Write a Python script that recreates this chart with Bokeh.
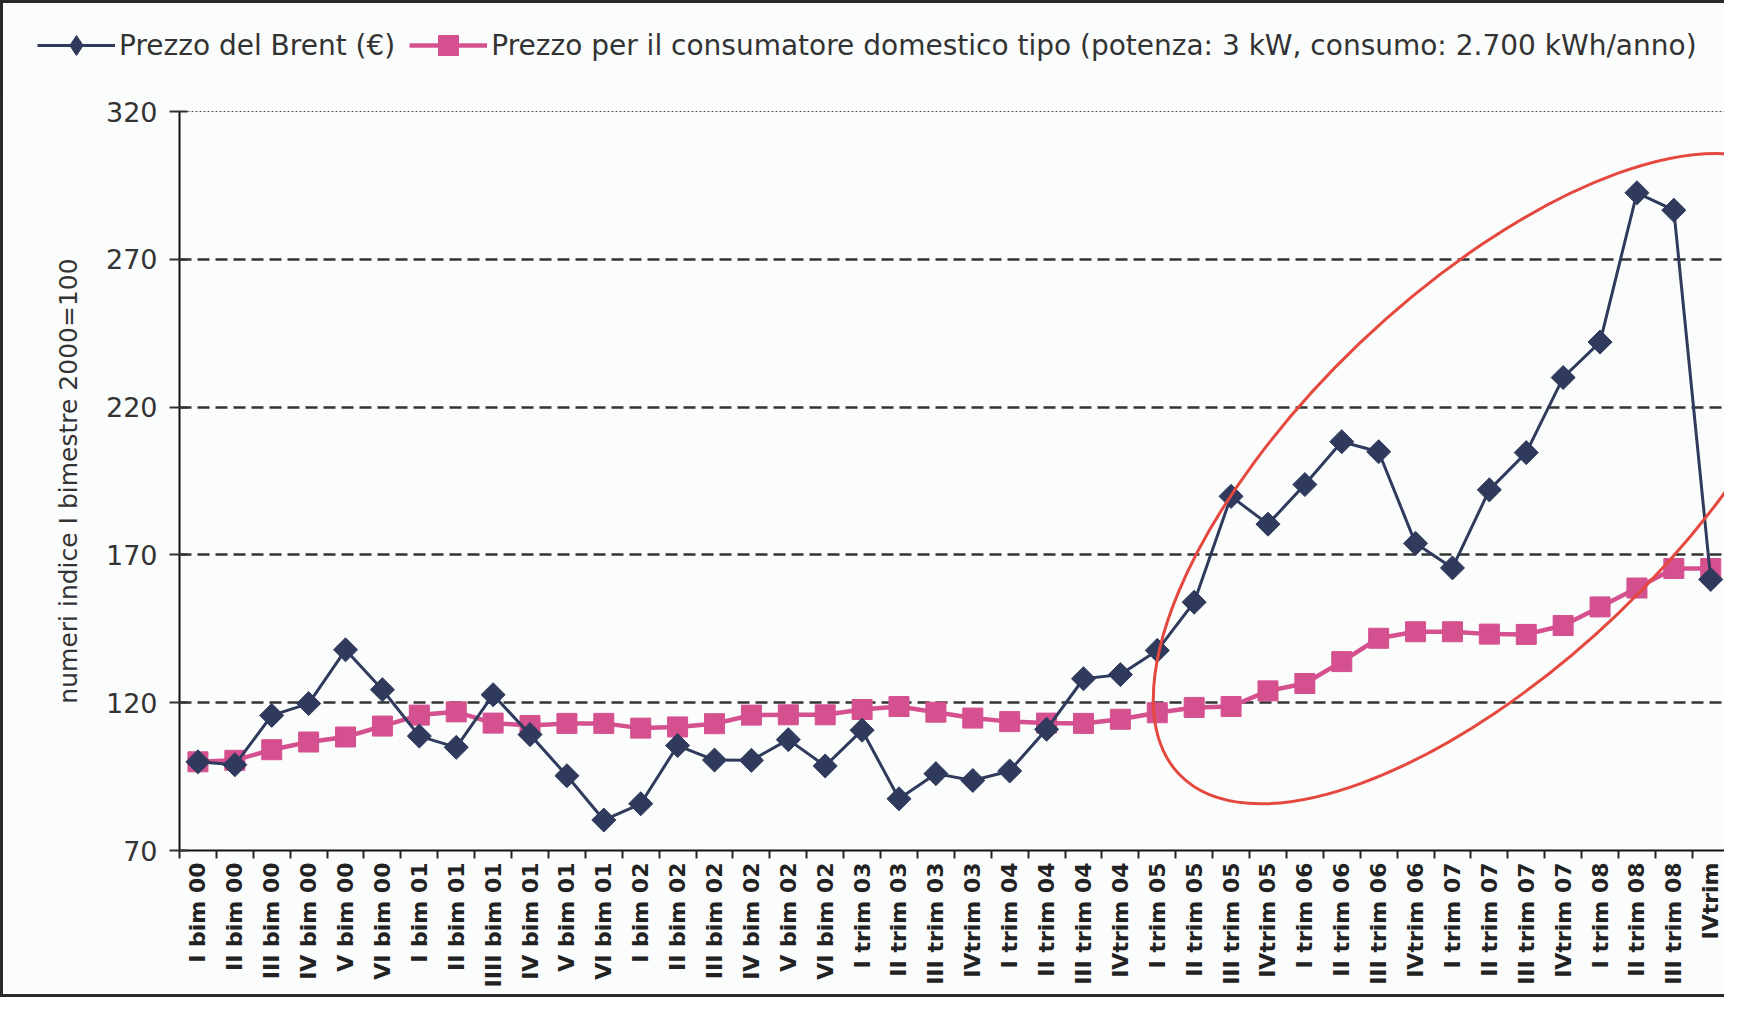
import math
from bokeh.plotting import figure
from bokeh.layouts import column
from bokeh.models import FixedTicker, Legend, LegendItem, Range1d
from bokeh.embed import file_html
from bokeh.resources import INLINE

periods = [
    "I bim 00", "II bim 00", "III bim 00", "IV bim 00", "V bim 00", "VI bim 00",
    "I bim 01", "II bim 01", "IIII bim 01", "IV bim 01", "V bim 01", "VI bim 01",
    "I bim 02", "II bim 02", "III bim 02", "IV bim 02", "V bim 02", "VI bim 02",
    "I trim 03", "II trim 03", "III trim 03", "IVtrim 03",
    "I trim 04", "II trim 04", "III trim 04", "IVtrim 04",
    "I trim 05", "II trim 05", "III trim 05", "IVtrim 05",
    "I trim 06", "II trim 06", "III trim 06", "IVtrim 06",
    "I trim 07", "II trim 07", "III trim 07", "IVtrim 07",
    "I trim 08", "II trim 08", "III trim 08", "IVtrim",
]

brent = [
    100, 99, 115.7, 119.7, 137.9, 124.4,
    108.7, 104.9, 122.7, 109.2, 95.3, 80.3,
    85.8, 105.5, 100.6, 100.5, 107.5, 98.6,
    110.7, 87.5, 96.0, 93.7,
    96.9, 111.0, 128.1, 129.5,
    137.7, 154.0, 189.8, 180.4,
    193.8, 208.3, 204.9, 173.9,
    165.6, 192.0, 204.6, 230.0,
    242.0, 292.5, 286.6, 161.7,
]

consumer = [
    100, 100.5, 104.1, 106.7, 108.4, 112.1,
    115.8, 116.9, 113.1, 112.3, 113.0, 113.0,
    111.4, 111.8, 112.9, 115.8, 115.9, 115.9,
    117.7, 118.7, 116.8, 114.8,
    113.6, 113.1, 113.0, 114.4,
    116.6, 118.4, 118.7, 124.0,
    126.5, 133.9, 141.8, 144.0,
    144.0, 143.2, 143.1, 146.1,
    152.4, 158.8, 165.4, 165.4,
]

y_ticks = [70, 120, 170, 220, 270, 320]
grid_ticks = [120, 170, 220, 270]

series_names = [
    "Prezzo del Brent (€)",
    "Prezzo per il consumatore domestico tipo (potenza: 3 kW, consumo: 2.700 kWh/anno)",
]

# red highlight ellipse (annotation), position in data units, size in screen px
ELL_X, ELL_Y = 34.98, 195.8
ELL_W, ELL_H, ELL_ANGLE = 856, 374, math.radians(43.7)

FONT = "DejaVu Sans"
NAVY = "#2f3a5c"
PINK = "#d4508f"
BG = "#fbfdfd"
BORDER = "3px solid #2a2a2a"

W = 1724
TOP_H = 91

# ---------------- legend strip ----------------
top = figure(
    width=W, height=TOP_H, output_backend="svg", toolbar_location=None,
    x_range=Range1d(0, 1), y_range=Range1d(0, 1),
    x_axis_type=None, y_axis_type=None,
    min_border_left=0, min_border_right=0, min_border_top=0, min_border_bottom=0,
    background_fill_color=BG, border_fill_color=BG,
    frame_align=False,
)
top.styles = {"border-left": BORDER, "border-top": BORDER}
top.outline_line_color = None
top.grid.visible = False
# legend-only renderers, their points lie outside the strip's visible range
tl1 = top.line([-5, -4], [-5, -5], line_color=NAVY, line_width=3)
tm1 = top.scatter([-5], [-5], marker="diamond", size=24,
                  fill_color=NAVY, line_color=NAVY)
tl2 = top.line([-5, -4], [-5, -5], line_color=PINK, line_width=4.5)
tm2 = top.scatter([-5], [-5], marker="square", size=20, fill_color=PINK, line_color=PINK)

legend = Legend(
    items=[LegendItem(label=series_names[0], renderers=[tl1, tm1]),
           LegendItem(label=series_names[1], renderers=[tl2, tm2])],
    orientation="horizontal",
    location=(30, 20),
    label_text_font=FONT, label_text_font_size="28px", label_text_color="#333333",
    glyph_width=78, glyph_height=50, label_height=30, label_standoff=4,
    spacing=14, padding=4, margin=0,
    border_line_alpha=0, background_fill_alpha=0,
)
top.add_layout(legend, "center")

# ---------------- main chart ----------------
xs = list(range(len(periods)))

p = figure(
    width=W, height=906,
    output_backend="svg", toolbar_location=None,
    x_range=Range1d(-0.5, 41.4), y_range=Range1d(70, 320),
    min_border_left=176, min_border_right=2, min_border_top=20, min_border_bottom=147,
    background_fill_color=BG, border_fill_color=BG,
    frame_align=False,
)
p.styles = {"border-left": BORDER, "border-bottom": BORDER}

p.outline_line_color = "#555555"
p.outline_line_dash = "2 2"
p.outline_line_width = 1

p.xgrid.visible = False
p.ygrid.ticker = FixedTicker(ticks=grid_ticks)
p.ygrid.grid_line_color = "#333333"
p.ygrid.grid_line_width = 2.5
p.ygrid.grid_line_dash = "12 6"

p.yaxis.ticker = FixedTicker(ticks=y_ticks)
p.yaxis.axis_line_color = "#111111"
p.yaxis.axis_line_width = 2
p.yaxis.major_tick_out = 10
p.yaxis.major_tick_in = 8
p.yaxis.major_tick_line_color = "#333333"
p.yaxis.major_tick_line_width = 2
p.yaxis.minor_tick_line_color = None
p.yaxis.major_label_text_font = FONT
p.yaxis.major_label_text_font_size = "27px"
p.yaxis.major_label_text_color = "#333333"
p.yaxis.major_label_standoff = 12
p.yaxis.axis_label = "numeri indice I bimestre 2000=100"
p.yaxis.axis_label_text_font = FONT
p.yaxis.axis_label_text_font_size = "25px"
p.yaxis.axis_label_text_font_style = "normal"
p.yaxis.axis_label_text_color = "#333333"
p.yaxis.axis_label_standoff = 20

p.xaxis.ticker = FixedTicker(ticks=xs, minor_ticks=[i - 0.5 for i in range(len(periods) + 1)])
p.xaxis.major_label_overrides = {i: lab for i, lab in enumerate(periods)}
p.xaxis.major_label_orientation = math.pi / 2
p.xaxis.axis_line_color = "#111111"
p.xaxis.axis_line_width = 2
p.xaxis.major_tick_out = 0
p.xaxis.major_tick_in = 0
p.xaxis.minor_tick_out = 8
p.xaxis.minor_tick_in = 0
p.xaxis.minor_tick_line_color = "#222222"
p.xaxis.minor_tick_line_width = 2
p.xaxis.major_label_text_font = FONT
p.xaxis.major_label_text_font_size = "22px"
p.xaxis.major_label_text_font_style = "bold"
p.xaxis.major_label_text_color = "#222222"
p.xaxis.major_label_standoff = 4

p.line(xs, consumer, line_color=PINK, line_width=4.5)
p.scatter(xs, consumer, marker="square", size=20, fill_color=PINK, line_color=PINK)
p.line(xs, brent, line_color=NAVY, line_width=3)
p.scatter(xs, brent, marker="square", angle=math.pi / 4, size=17,
          fill_color=NAVY, line_color=NAVY)

p.ellipse(x=[ELL_X], y=[ELL_Y], width=ELL_W, height=ELL_H,
          width_units="screen", height_units="screen", angle=ELL_ANGLE,
          fill_alpha=0, line_color="#e5483e", line_width=3, level="overlay")

layout = column(top, p, spacing=0)
open("out.html", "w").write(file_html(layout, INLINE))
